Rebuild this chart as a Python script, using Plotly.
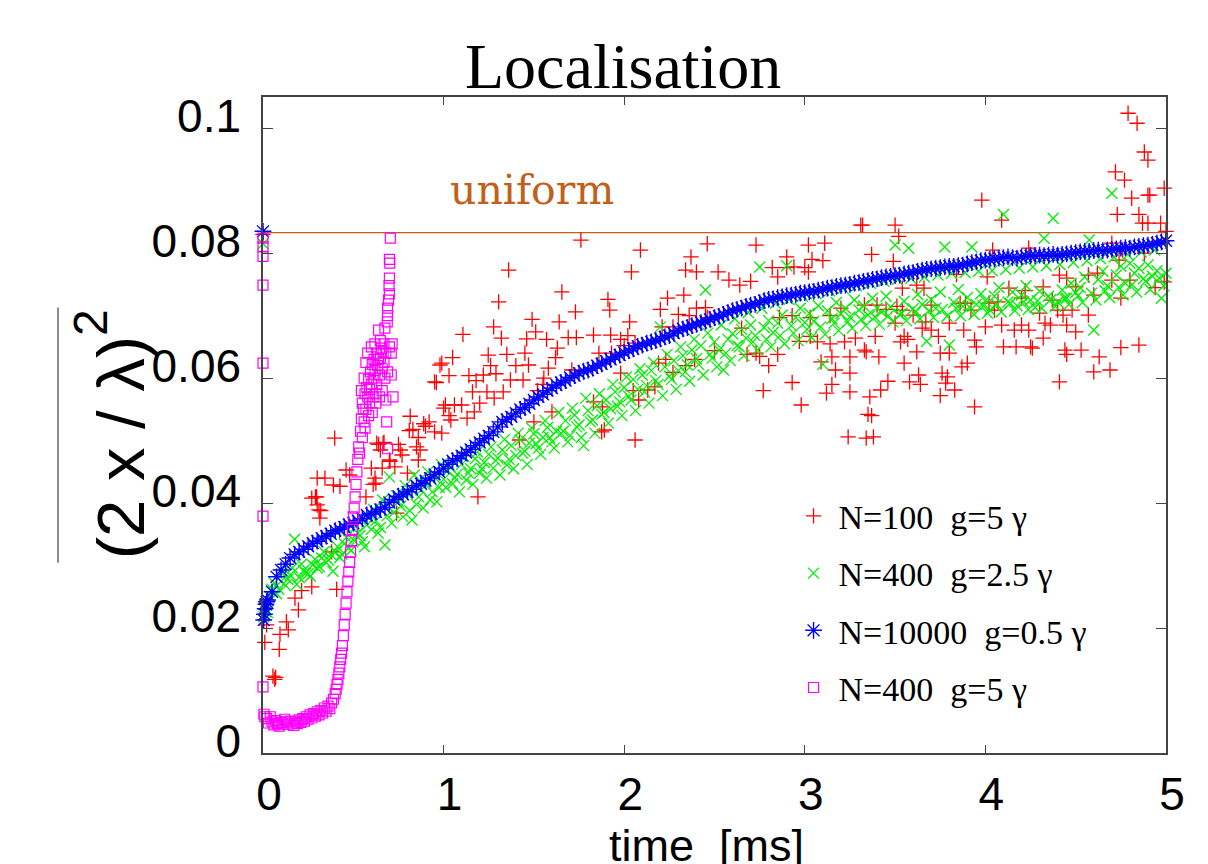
import plotly.graph_objects as go

# ---------------- data ----------------
uniform_level = 0.0833

# N=100 g=5 gamma  (time [ms], value)
red_points = [
    (0.0, 0.0830), (0.01, 0.0177), (0.02, 0.0205), (0.055, 0.0123), (0.065, 0.0118), (0.07, 0.0121),
    (0.09, 0.0166), (0.094, 0.0190), (0.13, 0.0210), (0.14, 0.0197), (0.177, 0.0248), (0.196, 0.0229),
    (0.214, 0.0260), (0.27, 0.0266), (0.27, 0.0408), (0.29, 0.0410), (0.297, 0.0410), (0.30, 0.0440),
    (0.30, 0.0397), (0.31, 0.0389), (0.315, 0.0376), (0.32, 0.0388), (0.343, 0.0440), (0.38, 0.0322),
    (0.39, 0.0429), (0.397, 0.0504), (0.408, 0.0262), (0.426, 0.0427), (0.46, 0.0453), (0.48, 0.0445),
    (0.57, 0.0410), (0.60, 0.0456), (0.61, 0.0430), (0.62, 0.0440), (0.625, 0.0432), (0.63, 0.0496),
    (0.64, 0.0494), (0.65, 0.0485), (0.66, 0.0456), (0.665, 0.0496), (0.67, 0.0497), (0.70, 0.0469),
    (0.703, 0.0467), (0.73, 0.0458), (0.74, 0.0384), (0.75, 0.0494), (0.76, 0.0485), (0.77, 0.0477),
    (0.80, 0.0448), (0.81, 0.0516), (0.815, 0.0539), (0.83, 0.0518), (0.85, 0.0490), (0.86, 0.0505),
    (0.86, 0.0469), (0.87, 0.0485), (0.89, 0.0527), (0.90, 0.0523), (0.92, 0.0530), (0.95, 0.0594),
    (0.95, 0.0514), (0.96, 0.0593), (0.98, 0.0621), (0.99, 0.0624), (0.99, 0.0512), (1.00, 0.0552),
    (1.01, 0.0557), (1.03, 0.0540), (1.03, 0.0604), (1.04, 0.0533), (1.05, 0.0633), (1.06, 0.0557),
    (1.10, 0.0557), (1.107, 0.0670), (1.13, 0.0536), (1.14, 0.0604), (1.16, 0.0578), (1.17, 0.0546),
    (1.18, 0.0596), (1.19, 0.0410), (1.20, 0.0560), (1.22, 0.0605), (1.24, 0.0578), (1.247, 0.0637),
    (1.26, 0.0620), (1.277, 0.0682), (1.28, 0.0568), (1.29, 0.0607), (1.305, 0.0722), (1.32, 0.0664),
    (1.33, 0.0578), (1.35, 0.0638), (1.36, 0.0773), (1.37, 0.0597), (1.40, 0.0620), (1.42, 0.0501),
    (1.44, 0.0597), (1.45, 0.0640), (1.46, 0.0663), (1.47, 0.0621), (1.49, 0.0694), (1.50, 0.0530),
    (1.51, 0.0674), (1.52, 0.0580), (1.55, 0.0590), (1.555, 0.0600), (1.57, 0.0662), (1.58, 0.0616),
    (1.60, 0.0546), (1.62, 0.0633), (1.63, 0.0648), (1.64, 0.0690), (1.655, 0.0738), (1.69, 0.0665),
    (1.71, 0.0613), (1.73, 0.0706), (1.735, 0.0665), (1.76, 0.0821), (1.83, 0.0669), (1.83, 0.0562),
    (1.86, 0.0640), (1.875, 0.0514), (1.88, 0.0554), (1.89, 0.0517), (1.91, 0.0726), (1.92, 0.0709),
    (1.925, 0.0669), (1.93, 0.0640), (1.98, 0.0662), (1.98, 0.0608), (2.00, 0.0652), (2.02, 0.0668),
    (2.03, 0.0690), (2.04, 0.0770), (2.05, 0.0580), (2.06, 0.0656), (2.06, 0.0501), (2.08, 0.0565),
    (2.09, 0.0805), (2.13, 0.0581), (2.17, 0.0586), (2.19, 0.0624), (2.20, 0.0710), (2.21, 0.0682),
    (2.23, 0.0630), (2.24, 0.0728), (2.27, 0.0682), (2.27, 0.0609), (2.30, 0.0702), (2.33, 0.0733),
    (2.34, 0.0773), (2.34, 0.0620), (2.36, 0.0700), (2.37, 0.0794), (2.39, 0.0630), (2.40, 0.0770),
    (2.40, 0.0712), (2.45, 0.0713), (2.46, 0.0815), (2.46, 0.0697), (2.50, 0.0697), (2.50, 0.0644),
    (2.52, 0.0770), (2.58, 0.0757), (2.64, 0.0749), (2.65, 0.0680), (2.68, 0.0638), (2.70, 0.0755),
    (2.73, 0.0813), (2.73, 0.0640), (2.75, 0.0635), (2.77, 0.0580), (2.80, 0.0620), (2.82, 0.0777),
    (2.85, 0.0762), (2.85, 0.0638), (2.86, 0.0697), (2.90, 0.0777), (2.90, 0.0794), (2.93, 0.0700),
    (2.93, 0.0593), (2.94, 0.0778), (2.97, 0.0659), (2.98, 0.0557), (3.00, 0.0777), (3.02, 0.0813),
    (3.02, 0.0770), (3.03, 0.0697), (3.03, 0.0667), (3.04, 0.0790), (3.07, 0.0658), (3.09, 0.0626),
    (3.10, 0.0788), (3.11, 0.0816), (3.12, 0.0576), (3.14, 0.0700), (3.14, 0.0655), (3.15, 0.0590),
    (3.15, 0.0634), (3.17, 0.0613), (3.20, 0.0712), (3.22, 0.0658), (3.24, 0.0506), (3.25, 0.0634),
    (3.25, 0.0608), (3.25, 0.0578), (3.28, 0.0664), (3.31, 0.0845), (3.32, 0.0845), (3.33, 0.0717),
    (3.33, 0.0645), (3.34, 0.0642), (3.34, 0.0504), (3.35, 0.0542), (3.36, 0.0570), (3.37, 0.0798),
    (3.37, 0.0540), (3.38, 0.0506), (3.39, 0.0667), (3.40, 0.0717), (3.41, 0.0634), (3.42, 0.0581),
    (3.45, 0.0710), (3.46, 0.0595), (3.49, 0.0787), (3.50, 0.0845), (3.50, 0.0688), (3.51, 0.0715),
    (3.52, 0.0827), (3.53, 0.0658), (3.54, 0.0744), (3.54, 0.0709), (3.55, 0.0667), (3.55, 0.0624),
    (3.57, 0.0662), (3.58, 0.0594), (3.60, 0.0701), (3.62, 0.0749), (3.62, 0.0642), (3.63, 0.0605),
    (3.64, 0.0590), (3.65, 0.0680), (3.66, 0.0744), (3.67, 0.0690), (3.70, 0.0717), (3.70, 0.0677),
    (3.74, 0.0667), (3.75, 0.0640), (3.75, 0.0572), (3.76, 0.0608), (3.78, 0.0592), (3.79, 0.0602),
    (3.80, 0.0688), (3.80, 0.0640), (3.83, 0.0581), (3.84, 0.0766), (3.86, 0.0720), (3.87, 0.0618),
    (3.88, 0.0677), (3.89, 0.0720), (3.90, 0.0624), (3.92, 0.0709), (3.94, 0.0661), (3.94, 0.0554),
    (3.95, 0.0650), (3.98, 0.0885), (4.00, 0.0682), (4.01, 0.0762), (4.02, 0.0720), (4.04, 0.0805),
    (4.05, 0.0709), (4.07, 0.0722), (4.09, 0.0853), (4.09, 0.0685), (4.10, 0.0650), (4.13, 0.0744),
    (4.16, 0.0677), (4.17, 0.0650), (4.20, 0.0685), (4.20, 0.0728), (4.22, 0.0740), (4.24, 0.0808),
    (4.24, 0.0677), (4.25, 0.0650), (4.26, 0.0648), (4.30, 0.0704), (4.32, 0.0746), (4.32, 0.0664),
    (4.33, 0.0688), (4.36, 0.0685), (4.37, 0.0725), (4.40, 0.0709), (4.41, 0.0765), (4.41, 0.0594),
    (4.43, 0.0701), (4.44, 0.0645), (4.45, 0.0760), (4.45, 0.0685), (4.45, 0.0638), (4.48, 0.0709),
    (4.50, 0.0746), (4.50, 0.0674), (4.53, 0.0645), (4.57, 0.0765), (4.57, 0.0701), (4.60, 0.0733),
    (4.60, 0.0610), (4.62, 0.0768), (4.63, 0.0634), (4.69, 0.0613), (4.70, 0.0816), (4.70, 0.0757),
    (4.72, 0.0930), (4.73, 0.0862), (4.74, 0.0789), (4.75, 0.0728), (4.75, 0.0649), (4.76, 0.0805),
    (4.77, 0.0917), (4.79, 0.1024), (4.80, 0.0757), (4.81, 0.0888), (4.84, 0.1008), (4.85, 0.0862),
    (4.85, 0.0653), (4.87, 0.0848), (4.88, 0.0962), (4.88, 0.0800), (4.90, 0.0949), (4.90, 0.0893),
    (4.91, 0.0893), (4.90, 0.0848), (4.94, 0.0745), (4.97, 0.0848), (4.99, 0.0904), (4.99, 0.0754),
    (5.00, 0.0835),
]

# regular sampling grids (every 0.025 ms, and the half-step samples in between)
t_grid = [round(0.025 * k, 4) for k in range(1, 201)]
t_half = [round(0.025 * k - 0.0125, 4) for k in range(1, 201)]

# N=400 g=2.5 gamma
green_t0 = [0.0, 0.005, 0.01, 0.015]
green_y0 = [0.0815, 0.0218, 0.0232, 0.0226]
green_y = [
    .0225, .0262, .0255, .0275, .0268, .0285, .0342, .0281, .0292, .0287,
    .0301, .0296, .0312, .0305, .0318, .0322, .0313, .0335, .0328, .0341,
    .0352, .0338, .0365, .0358, .0372, .0361, .0333, .0442, .0385, .0402,
    .0378, .0415, .0373, .0398, .0421, .0432, .0405, .0441, .0425, .0438,
    .0452, .0431, .0446, .0462, .0437, .0455, .0471, .0448, .0465, .0478,
    .0456, .0472, .0485, .0461, .0492, .0476, .0501, .0483, .0496, .0511,
    .0488, .0505, .0521, .0498, .0515, .0512, .0532, .0508, .0541, .0525,
    .0492, .0548, .0533, .0556, .0542, .0565, .0551, .0578, .0562, .0585,
    .0571, .0598, .0582, .0605, .0588, .0612, .0596, .0682, .0618, .0603,
    .0628, .0612, .0636, .0621, .0645, .0631, .0652, .0741, .0638, .0658,
    .0645, .0613, .0662, .0671, .0652, .0678, .0664, .0685, .0668, .0778,
    .0681, .0692, .0673, .0688, .0701, .0780, .0684, .0697, .0712, .0689,
    .0704, .0691, .0716, .0622, .0708, .0695, .0721, .0703, .0712, .0698,
    .0725, .0709, .0716, .0701, .0728, .0712, .0706, .0731, .0714, .0813,
    .0702, .0723, .0808, .0711, .0734, .0718, .0659, .0726, .0712, .0738,
    .0810, .0653, .0721, .0742, .0715, .0729, .0810, .0718, .0735, .0724,
    .0709, .0731, .0745, .0862, .0722, .0738, .0716, .0733, .0748, .0725,
    .0713, .0739, .0824, .0731, .0856, .0722, .0741, .0728, .0752, .0737,
    .0745, .0762, .0821, .0677, .0758, .0771, .0748, .0896, .0765, .0779,
    .0752, .0784, .0768, .0776, .0759, .0781, .0763, .0772, .0728, .0768,
]
green_y_half = [
    .0238, .0251, .0272, .0262, .0290, .0278, .0296, .0270, .0302, .0288,
    .0283, .0310, .0298, .0322, .0309, .0291, .0330, .0318, .0345, .0324,
    .0362, .0348, .0330, .0376, .0390, .0352, .0405, .0380, .0368, .0412,
    .0395, .0428, .0388, .0445, .0410, .0392, .0450, .0418, .0402, .0462,
    .0425, .0458, .0440, .0418, .0475, .0448, .0430, .0482, .0455, .0440,
    .0490, .0468, .0445, .0502, .0470, .0455, .0512, .0480, .0462, .0520,
    .0495, .0478, .0532, .0505, .0488, .0545, .0515, .0498, .0552, .0522,
    .0505, .0568, .0530, .0512, .0575, .0545, .0528, .0590, .0555, .0540,
    .0602, .0565, .0548, .0615, .0578, .0560, .0625, .0590, .0572, .0638,
    .0598, .0582, .0650, .0610, .0595, .0662, .0622, .0605, .0672, .0632,
    .0618, .0685, .0640, .0628, .0695, .0650, .0636, .0705, .0658, .0645,
    .0712, .0662, .0650, .0720, .0668, .0655, .0726, .0672, .0660, .0731,
    .0678, .0665, .0735, .0682, .0670, .0740, .0688, .0676, .0744, .0690,
    .0680, .0748, .0694, .0684, .0752, .0698, .0686, .0755, .0700, .0690,
    .0758, .0704, .0692, .0760, .0706, .0695, .0762, .0708, .0697, .0765,
    .0710, .0699, .0768, .0712, .0700, .0769, .0714, .0702, .0771, .0716,
    .0704, .0772, .0718, .0706, .0774, .0720, .0708, .0776, .0722, .0710,
    .0778, .0724, .0712, .0780, .0726, .0715, .0782, .0728, .0718, .0785,
    .0732, .0721, .0788, .0736, .0725, .0791, .0740, .0729, .0794, .0745,
    .0733, .0798, .0750, .0738, .0802, .0755, .0742, .0805, .0760, .0748,
]

# N=10000 g=0.5 gamma
blue_t0 = [0.0, 0.004, 0.008, 0.012, 0.016, 0.02]
blue_y0 = [0.0835, 0.0213, 0.0222, 0.0231, 0.0238, 0.0242]
blue_y = [
    .0245, .0258, .0282, .0293, .0302, .0312, .0318, .0322, .0326, .0331,
    .0336, .0339, .0344, .0347, .0351, .0356, .0358, .0362, .0366, .0368,
    .0372, .0375, .0381, .0383, .0386, .0390, .0393, .0401, .0406, .0411,
    .0414, .0418, .0422, .0428, .0431, .0436, .0440, .0446, .0450, .0456,
    .0462, .0468, .0471, .0476, .0481, .0486, .0492, .0497, .0503, .0508,
    .0514, .0522, .0530, .0534, .0538, .0544, .0550, .0553, .0559, .0565,
    .0570, .0574, .0580, .0584, .0589, .0593, .0596, .0601, .0604, .0608,
    .0611, .0613, .0616, .0620, .0623, .0627, .0630, .0634, .0637, .0641,
    .0644, .0647, .0651, .0653, .0656, .0658, .0660, .0663, .0666, .0668,
    .0672, .0676, .0679, .0681, .0684, .0686, .0689, .0691, .0694, .0697,
    .0699, .0702, .0705, .0708, .0710, .0712, .0715, .0717, .0718, .0721,
    .0724, .0726, .0727, .0729, .0730, .0732, .0733, .0734, .0736, .0737,
    .0738, .0739, .0741, .0742, .0744, .0745, .0747, .0748, .0749, .0750,
    .0752, .0753, .0755, .0756, .0758, .0759, .0761, .0762, .0763, .0764,
    .0765, .0767, .0768, .0769, .0771, .0773, .0774, .0775, .0776, .0777,
    .0778, .0779, .0779, .0780, .0781, .0783, .0785, .0786, .0788, .0789,
    .0790, .0791, .0792, .0793, .0794, .0793, .0792, .0794, .0795, .0796,
    .0796, .0797, .0796, .0797, .0798, .0797, .0798, .0799, .0800, .0801,
    .0802, .0803, .0803, .0804, .0805, .0804, .0805, .0806, .0807, .0808,
    .0809, .0808, .0810, .0811, .0812, .0813, .0814, .0816, .0818, .0820,
]

# N=400 g=5 gamma  (time [ms], value)
magenta_points = [
    (0.0, 0.0824), (0.0, 0.0810), (0.0, 0.0795), (0.0, 0.0749), (0.0, 0.0624), (0.0, 0.0379), (0.0, 0.0106),
    (0.005, 0.0062), (0.01, 0.0058), (0.02, 0.0055), (0.03, 0.0048), (0.04, 0.0058), (0.05, 0.0050),
    (0.06, 0.0045), (0.07, 0.0052), (0.08, 0.0047), (0.09, 0.0043), (0.10, 0.0049), (0.11, 0.0046),
    (0.12, 0.0054), (0.13, 0.0050), (0.14, 0.0046), (0.15, 0.0051), (0.16, 0.0048), (0.17, 0.0044),
    (0.18, 0.0050), (0.19, 0.0047), (0.20, 0.0053), (0.21, 0.0049), (0.22, 0.0055), (0.23, 0.0051),
    (0.24, 0.0058), (0.25, 0.0054), (0.26, 0.0061), (0.27, 0.0056), (0.28, 0.0063), (0.29, 0.0059),
    (0.30, 0.0066), (0.31, 0.0061), (0.32, 0.0068), (0.33, 0.0064), (0.34, 0.0072), (0.35, 0.0067),
    (0.36, 0.0075), (0.37, 0.0071), (0.38, 0.0080), (0.39, 0.0086), (0.40, 0.0095), (0.405, 0.0102),
    (0.41, 0.0110), (0.415, 0.0118), (0.42, 0.0128), (0.425, 0.0138), (0.43, 0.0150), (0.435, 0.0160),
    (0.44, 0.0172), (0.445, 0.0188), (0.45, 0.0205), (0.455, 0.0222), (0.46, 0.0240), (0.465, 0.0258),
    (0.47, 0.0275), (0.475, 0.0290), (0.48, 0.0305), (0.485, 0.0322), (0.49, 0.0340), (0.495, 0.0358),
    (0.50, 0.0378), (0.505, 0.0392), (0.51, 0.0410), (0.515, 0.0430), (0.52, 0.0450), (0.525, 0.0470),
    (0.53, 0.0490), (0.535, 0.0480), (0.54, 0.0515), (0.545, 0.0535), (0.55, 0.0505), (0.555, 0.0550),
    (0.56, 0.0530), (0.565, 0.0575), (0.57, 0.0550), (0.575, 0.0585), (0.58, 0.0570), (0.585, 0.0598),
    (0.59, 0.0582), (0.595, 0.0610), (0.60, 0.0590), (0.605, 0.0622), (0.61, 0.0600), (0.615, 0.0630),
    (0.62, 0.0612), (0.625, 0.0575), (0.63, 0.0640), (0.635, 0.0620), (0.64, 0.0677), (0.645, 0.0605),
    (0.65, 0.0632), (0.655, 0.0648), (0.66, 0.0615), (0.665, 0.0642), (0.67, 0.0655), (0.675, 0.0600),
    (0.68, 0.0565), (0.685, 0.0530), (0.69, 0.0487), (0.688, 0.0690), (0.69, 0.0700), (0.69, 0.0712),
    (0.695, 0.0725), (0.70, 0.0735), (0.698, 0.0748), (0.70, 0.0760), (0.702, 0.0784), (0.70, 0.0790),
    (0.705, 0.0824), (0.675, 0.0680), (0.71, 0.0640), (0.715, 0.0655),
    (0.56, 0.0600), (0.57, 0.0625), (0.58, 0.0640), (0.59, 0.0560), (0.60, 0.0650), (0.61, 0.0570),
    (0.62, 0.0655), (0.63, 0.0590), (0.64, 0.0630), (0.65, 0.0660), (0.66, 0.0580), (0.67, 0.0625),
    (0.68, 0.0640), (0.69, 0.0610), (0.70, 0.0650), (0.71, 0.0605), (0.72, 0.0570), (0.55, 0.0560),
    (0.545, 0.0580), (0.565, 0.0520), (0.585, 0.0540), (0.605, 0.0545), (0.625, 0.0560), (0.645, 0.0570),
]

tick_x = [0, 1, 2, 3, 4, 5]
tick_y = [0, 0.02, 0.04, 0.06, 0.08, 0.1]
tick_y_text = ["0", "0.02", "0.04", "0.06", "0.08", "0.1"]

labels = ["N=100\u00a0\u00a0g=5 \u03b3", "N=400\u00a0\u00a0g=2.5 \u03b3",
          "N=10000\u00a0\u00a0g=0.5 \u03b3", "N=400\u00a0\u00a0g=5 \u03b3"]

# ---------------- figure ----------------
fig = go.Figure()

fig.add_trace(go.Scatter(
    x=[0, 5], y=[uniform_level, uniform_level], mode="lines",
    line=dict(color="#c0601a", width=1.2), showlegend=False, hoverinfo="skip"))

fig.add_trace(go.Scatter(
    x=[p[0] for p in red_points], y=[p[1] for p in red_points], mode="markers",
    name=labels[0], legendgroup="a", cliponaxis=False,
    marker=dict(symbol="cross-thin-open", size=11, color="#ff0000",
                line=dict(width=1.3, color="#ff0000"))))

fig.add_trace(go.Scatter(
    x=green_t0 + t_grid + t_half, y=green_y0 + green_y + green_y_half, mode="markers",
    name=labels[1], legendgroup="b", cliponaxis=False,
    marker=dict(symbol="x-thin-open", size=11, color="#00ee00",
                line=dict(width=1.3, color="#00ee00"))))

fig.add_trace(go.Scatter(
    x=blue_t0 + t_grid, y=blue_y0 + blue_y, mode="markers",
    name=labels[2], legendgroup="c", cliponaxis=False,
    marker=dict(symbol="asterisk-open", size=14, color="#0000ff",
                line=dict(width=1.4, color="#0000ff"))))

fig.add_trace(go.Scatter(
    x=[p[0] for p in magenta_points], y=[p[1] for p in magenta_points], mode="markers",
    name=labels[3], legendgroup="d", cliponaxis=False,
    marker=dict(symbol="square-open", size=10, color="#ff00ff",
                line=dict(width=1.2, color="#ff00ff"))))

axis_common = dict(
    showline=True, linecolor="#444444", linewidth=1.5, mirror="ticks",
    ticks="inside", tickcolor="#444444", tickwidth=1.2,
    showgrid=False, zeroline=False,
    tickfont=dict(family="Liberation Sans, Arial, sans-serif", size=46, color="black"),
)

fig.update_layout(
    width=1208, height=864,
    margin=dict(l=263, r=42, t=97, b=111),
    paper_bgcolor="white", plot_bgcolor="white",
    xaxis=dict(range=[0, 5], tickvals=tick_x, ticktext=[str(v) for v in tick_x],
               ticklen=8, ticklabelstandoff=0, ticklabelshift=6, **axis_common),
    yaxis=dict(range=[0, 0.105], tickvals=tick_y, ticktext=tick_y_text,
               ticklen=10, ticklabelstandoff=11, ticklabelshift=-12, **axis_common),
    legend=dict(x=0.582, y=0.405, xanchor="left", yanchor="top",
                font=dict(family="Liberation Serif, Times New Roman, serif", size=34, color="black"),
                bgcolor="rgba(0,0,0,0)", tracegroupgap=10, itemwidth=40),
    showlegend=True,
)

# title
fig.add_annotation(text="Localisation", xref="paper", yref="paper", x=0.399, y=0.99,
                   xanchor="center", yanchor="bottom", showarrow=False,
                   font=dict(family="Liberation Serif, Times New Roman, serif", size=64, color="black"))
# uniform label
fig.add_annotation(text="uniform", xref="x", yref="y", x=1.49, y=0.0859,
                   xanchor="center", yanchor="bottom", showarrow=False,
                   font=dict(family="DejaVu Serif, serif", size=41, color="#c0601a"))
# x-axis title
fig.add_annotation(text="time\u00a0\u00a0[ms]", xref="paper", yref="paper", x=0.4906, y=-0.099,
                   xanchor="center", yanchor="top", showarrow=False,
                   font=dict(family="Liberation Sans, Arial, sans-serif", size=45, color="black"))
# y-axis title (body + raised exponent) with overline
fig.add_annotation(text="(2 x / \u03bb)", xref="paper", yref="paper", x=-0.157, y=0.465,
                   xanchor="center", yanchor="middle", textangle=-90, showarrow=False,
                   font=dict(family="Liberation Sans, Arial, sans-serif", size=67, color="black"))
fig.add_annotation(text="2", xref="paper", yref="paper", x=-0.1916, y=0.657,
                   xanchor="center", yanchor="middle", textangle=-90, showarrow=False,
                   font=dict(family="Liberation Sans, Arial, sans-serif", size=48, color="black"))
fig.add_shape(type="line", xref="paper", yref="paper", x0=-0.227, x1=-0.227, y0=0.29, y1=0.679,
              line=dict(color="#666666", width=1.5))

fig.write_html("out.html", post_script="document.body.style.margin='0px';",
               config={"displayModeBar": False})
